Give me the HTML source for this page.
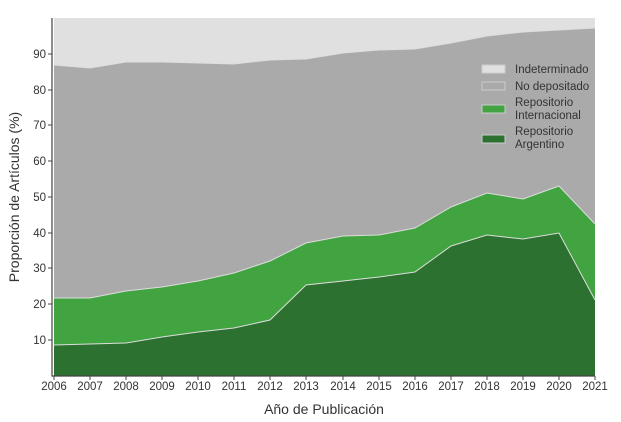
<!DOCTYPE html>
<html><head><style>body{margin:0;background:#fff}svg{display:block;font-family:"Liberation Sans",sans-serif}</style></head><body>
<svg width="621" height="422" viewBox="0 0 621 422">
<rect x="54" y="18" width="541" height="358" fill="#e0e0e0"/>
<polygon fill="#aaaaaa" points="54,376 54,65 90,68 126,62 162,62 198,63 234,64 270,60 306,59 343,53 379,50 415,49 451,43 487,36 523,32 559,30 595,28 595,376"/>
<polygon fill="#41a441" points="54,376 54,298 90,298 126,291 162,287 198,281 234,273 270,261 306,243 343,236 379,235 415,228 451,207 487,193 523,199 559,186 595,224 595,376"/>
<polyline fill="none" stroke="#ddd" stroke-width="1" points="54,65 90,68 126,62 162,62 198,63 234,64 270,60 306,59 343,53 379,50 415,49 451,43 487,36 523,32 559,30 595,28"/>
<polyline fill="none" stroke="#ddd" stroke-width="1" points="54,298 90,298 126,291 162,287 198,281 234,273 270,261 306,243 343,236 379,235 415,228 451,207 487,193 523,199 559,186 595,224"/>
<polygon fill="#2c712f" points="54,376 54,345 90,344 126,343 162,337 198,332 234,328 270,320 306,285 343,281 379,277 415,272 451,246 487,235 523,239 559,233 595,300 595,376"/>
<polyline fill="none" stroke="#ddd" stroke-width="1" points="54,345 90,344 126,343 162,337 198,332 234,328 270,320 306,285 343,281 379,277 415,272 451,246 487,235 523,239 559,233 595,300"/>
<path d="M52,18V376H595" fill="none" stroke="#444" stroke-width="1.2"/>
<g stroke="#444" font-size="11.5" fill="#333">
<g text-anchor="end">
<line x1="48" x2="52" y1="340" y2="340"/><text x="46" y="344" stroke="none">10</text>
<line x1="48" x2="52" y1="304" y2="304"/><text x="46" y="308" stroke="none">20</text>
<line x1="48" x2="52" y1="268" y2="268"/><text x="46" y="272" stroke="none">30</text>
<line x1="48" x2="52" y1="233" y2="233"/><text x="46" y="237" stroke="none">40</text>
<line x1="48" x2="52" y1="197" y2="197"/><text x="46" y="201" stroke="none">50</text>
<line x1="48" x2="52" y1="161" y2="161"/><text x="46" y="165" stroke="none">60</text>
<line x1="48" x2="52" y1="125" y2="125"/><text x="46" y="129" stroke="none">70</text>
<line x1="48" x2="52" y1="90" y2="90"/><text x="46" y="94" stroke="none">80</text>
<line x1="48" x2="52" y1="54" y2="54"/><text x="46" y="58" stroke="none">90</text>
</g>
<g text-anchor="middle">
<line x1="54" x2="54" y1="376" y2="380"/><text x="54" y="390" stroke="none">2006</text>
<line x1="90" x2="90" y1="376" y2="380"/><text x="90" y="390" stroke="none">2007</text>
<line x1="126" x2="126" y1="376" y2="380"/><text x="126" y="390" stroke="none">2008</text>
<line x1="162" x2="162" y1="376" y2="380"/><text x="162" y="390" stroke="none">2009</text>
<line x1="198" x2="198" y1="376" y2="380"/><text x="198" y="390" stroke="none">2010</text>
<line x1="234" x2="234" y1="376" y2="380"/><text x="234" y="390" stroke="none">2011</text>
<line x1="270" x2="270" y1="376" y2="380"/><text x="270" y="390" stroke="none">2012</text>
<line x1="306" x2="306" y1="376" y2="380"/><text x="306" y="390" stroke="none">2013</text>
<line x1="343" x2="343" y1="376" y2="380"/><text x="343" y="390" stroke="none">2014</text>
<line x1="379" x2="379" y1="376" y2="380"/><text x="379" y="390" stroke="none">2015</text>
<line x1="415" x2="415" y1="376" y2="380"/><text x="415" y="390" stroke="none">2016</text>
<line x1="451" x2="451" y1="376" y2="380"/><text x="451" y="390" stroke="none">2017</text>
<line x1="487" x2="487" y1="376" y2="380"/><text x="487" y="390" stroke="none">2018</text>
<line x1="523" x2="523" y1="376" y2="380"/><text x="523" y="390" stroke="none">2019</text>
<line x1="559" x2="559" y1="376" y2="380"/><text x="559" y="390" stroke="none">2020</text>
<line x1="595" x2="595" y1="376" y2="380"/><text x="595" y="390" stroke="none">2021</text>
</g>
</g>
<text x="324" y="414" text-anchor="middle" font-size="14" fill="#333">Año de Publicación</text>
<text transform="translate(19,197) rotate(-90)" text-anchor="middle" font-size="14" fill="#333">Proporción de Artículos (%)</text>
<g font-size="11.5" fill="#333">
<rect x="482" y="65" width="23" height="8" fill="#e0e0e0" stroke="#ccc"/><text x="515" y="73">Indeterminado</text>
<rect x="482" y="82" width="23" height="8" fill="#aaaaaa" stroke="#ccc"/><text x="515" y="90">No depositado</text>
<rect x="482" y="105" width="23" height="8" fill="#41a441" stroke="#ccc"/><text x="515" y="106">Repositorio</text><text x="515" y="119">Internacional</text>
<rect x="482" y="135" width="23" height="8" fill="#2c712f" stroke="#ccc"/><text x="515" y="135">Repositorio</text><text x="515" y="148">Argentino</text>
</g>
</svg>
</body></html>
